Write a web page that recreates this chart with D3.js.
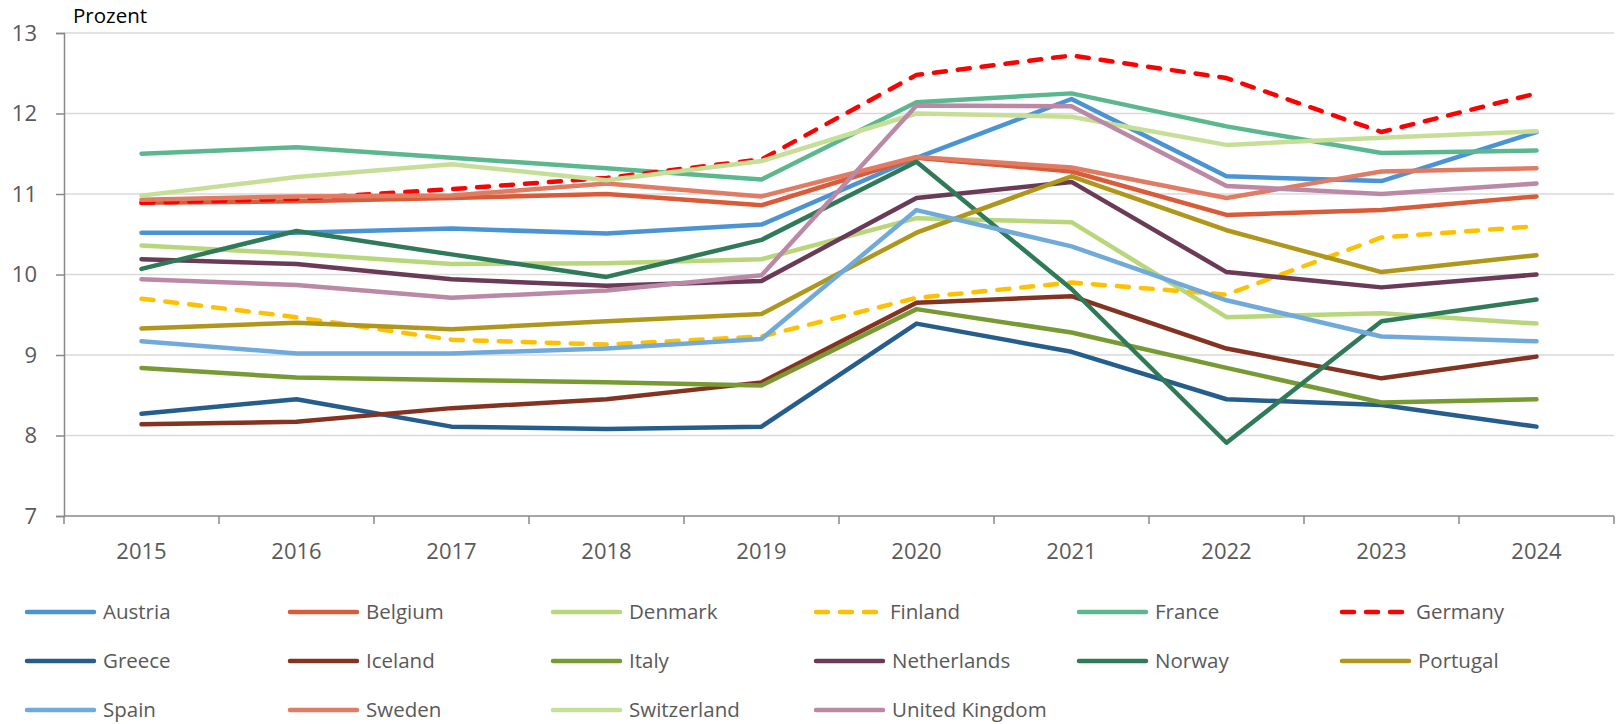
<!DOCTYPE html>
<html>
<head>
<meta charset="utf-8">
<script src="https://cdn.jsdelivr.net/npm/d3@7.9.0/dist/d3.min.js"></script>
<style>
  body { margin: 0; background: #fff; }
  svg { display: block; font-family: "Open Sans", sans-serif; }
</style>
</head>
<body>
<svg id="chart" width="1617" height="724"></svg>
<script>
const years = [2015, 2016, 2017, 2018, 2019, 2020, 2021, 2022, 2023, 2024];
const yTicks = [7, 8, 9, 10, 11, 12, 13];

const countries = ["Austria", "Belgium", "Denmark", "Finland", "France", "Germany",
  "Greece", "Iceland", "Italy", "Netherlands", "Norway", "Portugal",
  "Spain", "Sweden", "Switzerland", "United Kingdom"];

const colors = ["#4a94d4", "#d95b3a", "#b8d67a", "#ffc000", "#5bb88e", "#ff0000",
  "#255e8c", "#843321", "#789a32", "#6b3a56", "#2f7a58", "#b0961a",
  "#70aadb", "#e07c64", "#c6df96", "#bb88a6"];

const dashed = ["Finland", "Germany"];

// Prozent, 2015..2024
const austria     = [10.52, 10.52, 10.57, 10.51, 10.62, 11.45, 12.18, 11.22, 11.16, 11.77];
const belgium     = [10.89, 10.91, 10.95, 11.00, 10.86, 11.45, 11.28, 10.74, 10.80, 10.97];
const denmark     = [10.36, 10.26, 10.13, 10.14, 10.19, 10.70, 10.65, 9.47, 9.52, 9.39];
const finland     = [9.70, 9.47, 9.19, 9.13, 9.23, 9.71, 9.90, 9.75, 10.46, 10.60];
const france      = [11.50, 11.58, 11.45, 11.32, 11.18, 12.14, 12.25, 11.84, 11.51, 11.54];
const germany     = [10.89, 10.94, 11.06, 11.20, 11.43, 12.48, 12.72, 12.44, 11.77, 12.25];
const greece      = [8.27, 8.45, 8.11, 8.08, 8.11, 9.39, 9.04, 8.45, 8.38, 8.11];
const iceland     = [8.14, 8.17, 8.34, 8.45, 8.66, 9.65, 9.73, 9.08, 8.71, 8.98];
const italy       = [8.84, 8.72, 8.69, 8.66, 8.62, 9.57, 9.28, 8.84, 8.41, 8.45];
const netherlands = [10.19, 10.13, 9.94, 9.86, 9.92, 10.95, 11.15, 10.03, 9.84, 10.00];
const norway      = [10.07, 10.54, 10.25, 9.97, 10.43, 11.40, 9.82, 7.91, 9.42, 9.69];
const portugal    = [9.33, 9.40, 9.32, 9.42, 9.51, 10.52, 11.22, 10.55, 10.03, 10.24];
const spain       = [9.17, 9.02, 9.02, 9.08, 9.20, 10.80, 10.35, 9.68, 9.23, 9.17];
const sweden      = [10.93, 10.97, 10.98, 11.13, 10.97, 11.46, 11.33, 10.95, 11.28, 11.32];
const switzerland = [10.98, 11.21, 11.37, 11.17, 11.41, 12.00, 11.96, 11.61, 11.70, 11.78];
const uk          = [9.94, 9.87, 9.71, 9.80, 9.99, 12.10, 12.09, 11.10, 11.00, 11.13];

const values = [austria, belgium, denmark, finland, france, germany,
  greece, iceland, italy, netherlands, norway, portugal,
  spain, sweden, switzerland, uk];

const svg = d3.select("#chart");
const plotLeft = 64, plotRight = 1614, plotTop = 33, plotBottom = 516;
const lineW = 4.5;

const x = d3.scaleBand().domain(years).range([plotLeft, plotRight]).padding(0);
const y = d3.scaleLinear().domain([7, 13]).range([plotBottom, plotTop]);
const cx = d => x(d) + x.bandwidth() / 2;

// gridlines
svg.append("g")
  .selectAll("line")
  .data(yTicks.filter(t => t > 7))
  .join("line")
  .attr("x1", plotLeft).attr("x2", plotRight)
  .attr("y1", d => y(d)).attr("y2", d => y(d))
  .attr("stroke", "#d9d9d9").attr("stroke-width", 1.5);

// y axis
const yAxis = svg.append("g")
  .attr("transform", `translate(${plotLeft},0)`)
  .call(d3.axisLeft(y).tickValues(yTicks).tickSize(8).tickFormat(d3.format("d")));
yAxis.select(".domain").attr("stroke", "#898989").attr("stroke-width", 1.5);
yAxis.selectAll(".tick line").attr("stroke", "#898989").attr("stroke-width", 1.5);
yAxis.selectAll(".tick text")
  .attr("x", -27)
  .attr("fill", "#595959")
  .style("font-size", "22px")
  .style("font-family", "Open Sans");

// x axis: labels centred, ticks on category boundaries
const xAxis = svg.append("g")
  .attr("transform", `translate(0,${plotBottom})`)
  .call(d3.axisBottom(x).tickSize(0).tickPadding(27));
xAxis.select(".domain").remove();
xAxis.selectAll(".tick text")
  .attr("fill", "#595959")
  .style("font-size", "22px")
  .style("font-family", "Open Sans");

svg.append("line")
  .attr("x1", plotLeft).attr("x2", plotRight)
  .attr("y1", plotBottom).attr("y2", plotBottom)
  .attr("stroke", "#898989").attr("stroke-width", 1.5);

svg.append("g")
  .selectAll("line")
  .data(years.map(d => x(d)).concat([plotRight]))
  .join("line")
  .attr("x1", d => d).attr("x2", d => d)
  .attr("y1", plotBottom).attr("y2", plotBottom + 8)
  .attr("stroke", "#898989").attr("stroke-width", 1.5);

// unit label
svg.append("text")
  .attr("x", 73).attr("y", 23)
  .attr("fill", "#000")
  .style("font-size", "20.5px")
  .text("Prozent");

// lines
const line = d3.line()
  .x((d, i) => cx(years[i]))
  .y(d => y(d));

countries.forEach((name, i) => {
  const isDashed = dashed.includes(name);
  svg.append("path")
    .datum(values[i])
    .attr("d", line)
    .attr("fill", "none")
    .attr("stroke", colors[i])
    .attr("stroke-width", lineW)
    .attr("stroke-linejoin", "round")
    .attr("stroke-linecap", "round")
    .attr("stroke-dasharray", isDashed ? "12,12" : null);
});

// legend
const legendX0 = 27, colW = 263, rowY = [612, 661, 710];
const legend = svg.append("g");
countries.forEach((name, i) => {
  const col = i % 6, row = Math.floor(i / 6);
  const lx = legendX0 + col * colW, ly = rowY[row];
  const isDashed = dashed.includes(name);
  legend.append("line")
    .attr("x1", lx).attr("x2", isDashed ? lx + 60 : lx + 67)
    .attr("y1", ly).attr("y2", ly)
    .attr("stroke", colors[i])
    .attr("stroke-width", lineW)
    .attr("stroke-linecap", "round")
    .attr("stroke-dasharray", isDashed ? "12,12" : null);
  legend.append("text")
    .attr("x", isDashed ? lx + 74 : lx + 76)
    .attr("y", ly)
    .attr("dy", "0.35em")
    .attr("fill", "#595959")
    .style("font-size", "20.5px")
    .text(name);
});
</script>
</body>
</html>
